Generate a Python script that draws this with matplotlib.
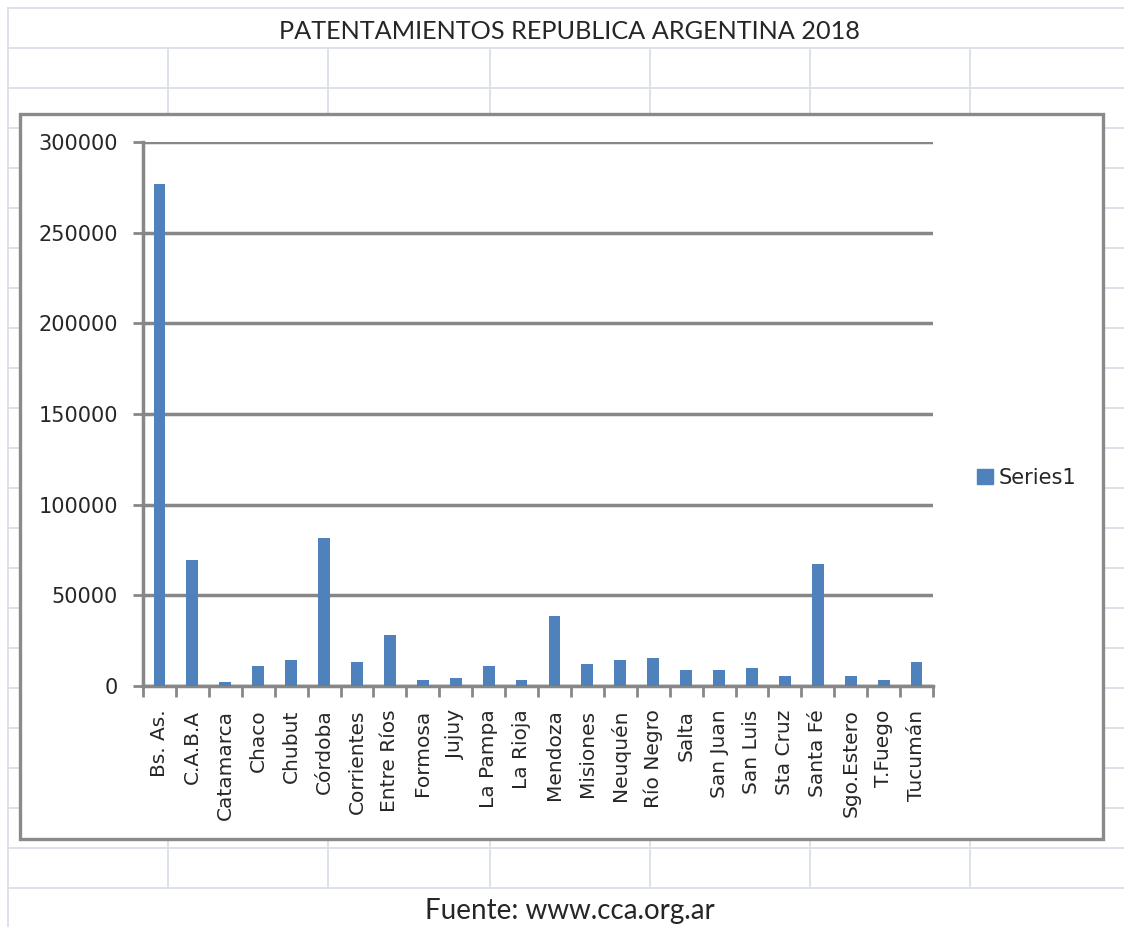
import matplotlib.pyplot as plt
from matplotlib.patches import Rectangle, Patch

# Patentamientos 2018 por provincia (unidades)
provincias = [
    "Bs. As.", "C.A.B.A", "Catamarca", "Chaco", "Chubut", "Córdoba",
    "Corrientes", "Entre Ríos", "Formosa", "Jujuy", "La Pampa", "La Rioja",
    "Mendoza", "Misiones", "Neuquén", "Río Negro", "Salta", "San Juan",
    "San Luis", "Sta Cruz", "Santa Fé", "Sgo.Estero", "T.Fuego", "Tucumán",
]
patentamientos = [
    276800, 69400, 2000, 11000, 14300, 81600,
    13000, 28400, 3100, 4400, 11000, 3100,
    38500, 12100, 14300, 15400, 8800, 8800,
    9900, 5500, 67100, 5500, 3100, 13200,
]
yticks = [0, 50000, 100000, 150000, 200000, 250000, 300000]

plt.rcParams["font.family"] = ["DejaVu Sans"]

W, H = 1124, 927
BAR = "#4f81bd"
AXIS = "#878787"
CELL = "#d9dee8"
TXT = "#262626"

fig = plt.figure(figsize=(W / 100, H / 100), dpi=100)

# hoja de cálculo de fondo
bg = fig.add_axes([0, 0, 1, 1])
bg.set_xlim(0, W)
bg.set_ylim(H, 0)
bg.axis("off")
for y in range(8, 889, 40):
    bg.plot([8, W], [y, y], color=CELL, lw=1.3)
bg.plot([8, 8], [8, H], color=CELL, lw=1.3)
for x in [168, 328, 490, 650, 810, 970]:
    bg.plot([x, x], [48, 888], color=CELL, lw=1.3)

# marco del gráfico
bg.add_patch(Rectangle((22, 116), 1083, 725, facecolor="#d0d0d0",
                       edgecolor="none", zorder=3))
bg.add_patch(Rectangle((20, 114), 1083, 725, facecolor="white",
                       edgecolor="#8a8a8a", lw=2.4, zorder=4))

bg.text(569, 31, "PATENTAMIENTOS REPUBLICA ARGENTINA 2018", family="Lato",
        fontsize=18.2, color=TXT, ha="center", va="center")
bg.text(570, 911, "Fuente: www.cca.org.ar", family="Lato", fontsize=20,
        color=TXT, ha="center", va="center")

ax = fig.add_axes([143 / W, (H - 686) / H, (933 - 143) / W, (686 - 142) / H])
ax.set_facecolor("none")
x = range(len(provincias))
ax.bar(x, patentamientos, width=0.36, color=BAR, zorder=3)

ax.set_xlim(-0.5, len(provincias) - 0.5)
ax.set_ylim(0, 300000)
ax.set_yticks(yticks)
ax.set_yticklabels([str(v) for v in yticks])
ax.set_xticks([i - 0.5 for i in range(len(provincias) + 1)], minor=False)
ax.set_xticklabels([])
ax.set_xticks(list(x), minor=True)
ax.set_xticklabels(provincias, minor=True, rotation=90, va="top", ha="center")

ax.grid(axis="y", color=AXIS, lw=2.5, zorder=1)
for side in ["top", "right"]:
    ax.spines[side].set_visible(False)
for side in ["left", "bottom"]:
    ax.spines[side].set_color(AXIS)
    ax.spines[side].set_linewidth(2.5)

ax.tick_params(axis="y", length=7.5, width=2, color=AXIS, pad=10.5,
               labelsize=15, labelcolor=TXT)
ax.tick_params(axis="x", which="major", length=8, width=2, color=AXIS)
ax.tick_params(axis="x", which="minor", length=0, pad=17,
               labelsize=14.5, labelcolor=TXT)

ax.legend(handles=[Patch(color=BAR, label="Series1")], loc="center left",
          bbox_to_anchor=(977 / W, (H - 478) / H), bbox_transform=fig.transFigure,
          frameon=False, handlelength=0.75, handleheight=0.75, handletextpad=0.3,
          borderpad=0, borderaxespad=0, fontsize=15, labelcolor=TXT)

fig.savefig("out.png", dpi=100)
